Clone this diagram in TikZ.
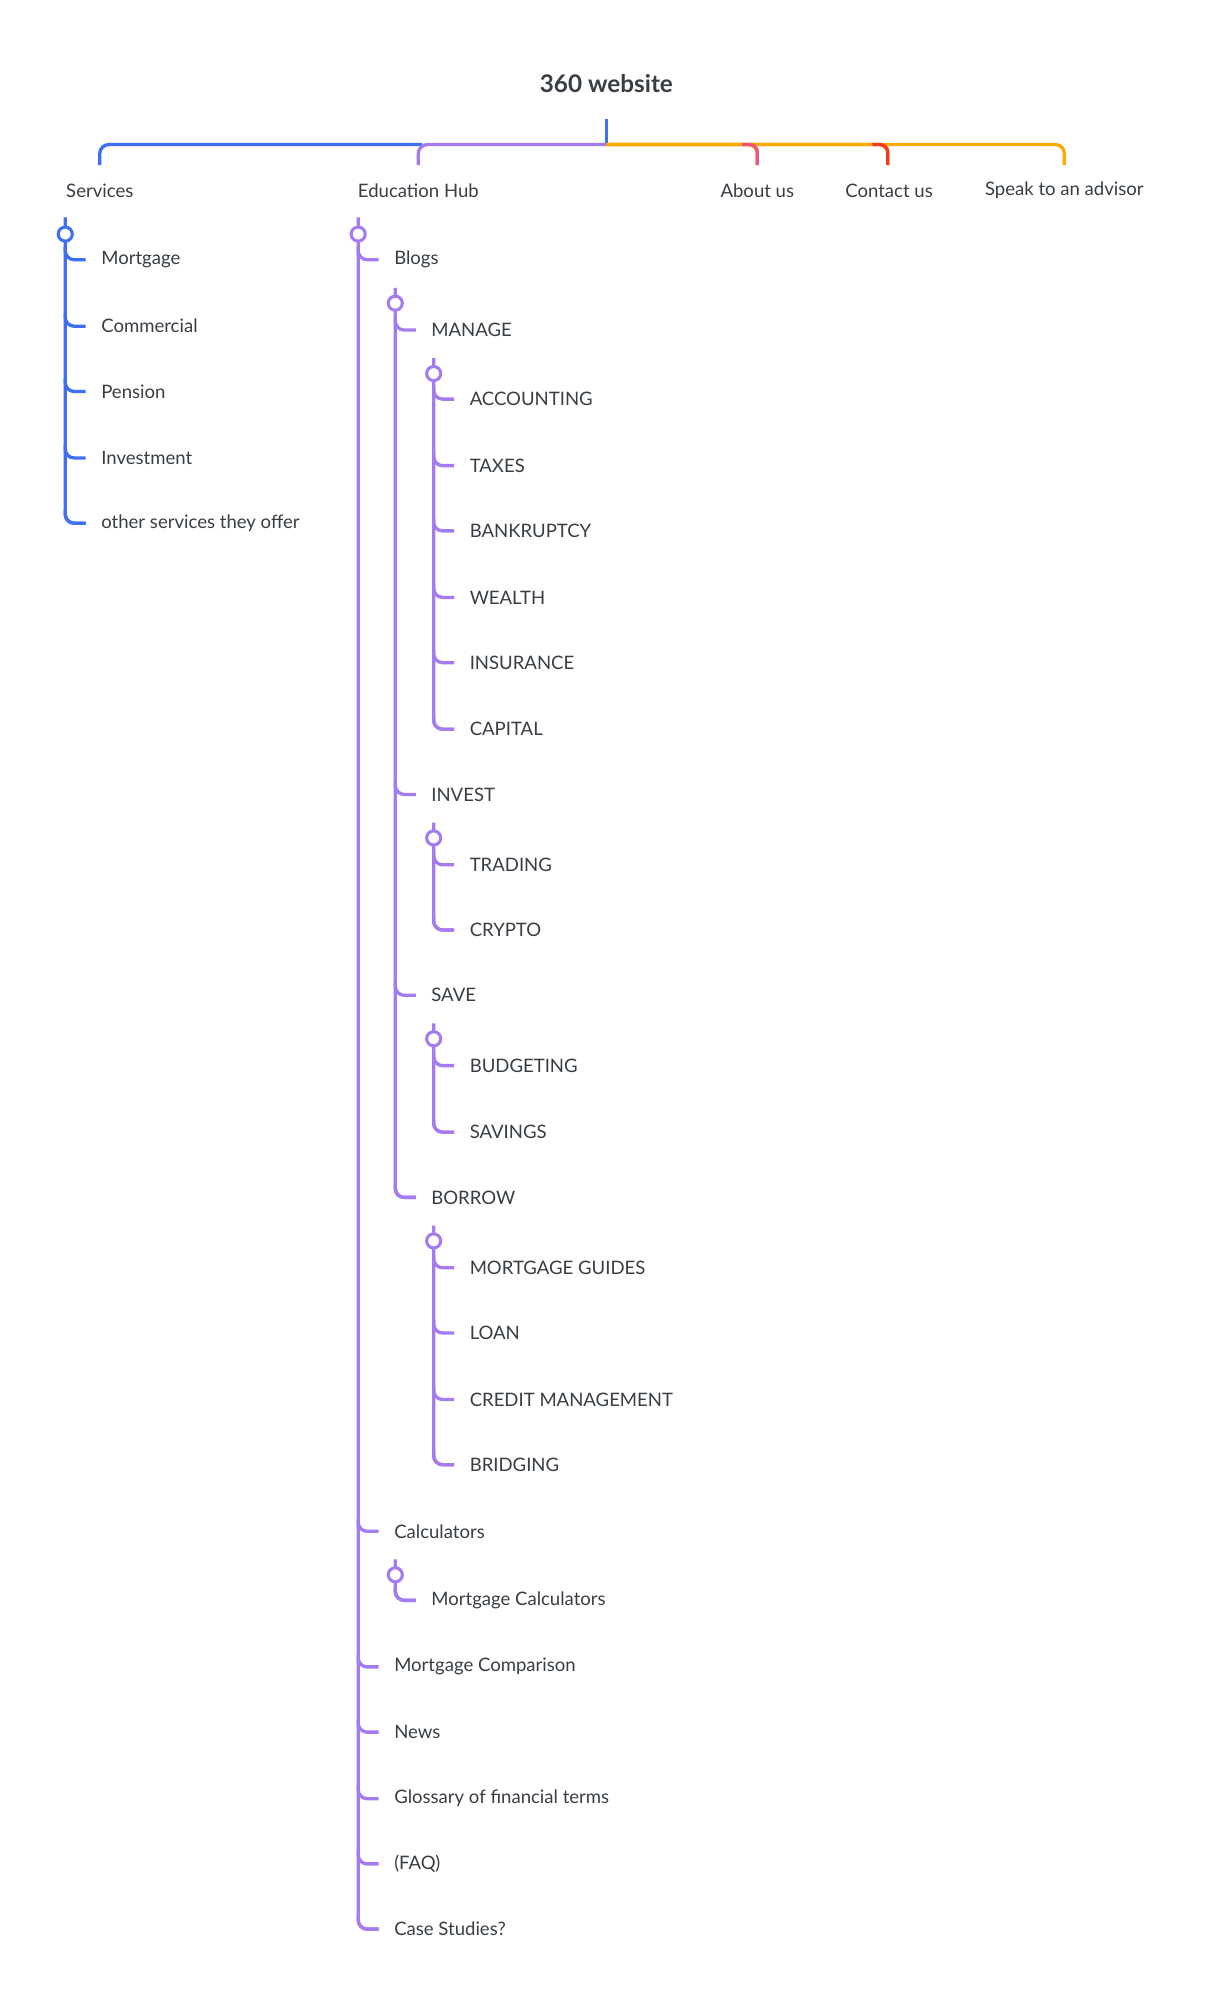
\documentclass[tikz,border=0pt]{standalone}
\usepackage{fontspec}
\setmainfont{Lato}
\definecolor{cb}{HTML}{3F6FF3}
\definecolor{cp}{HTML}{A57CF0}
\definecolor{co}{HTML}{FFAA00}
\definecolor{cpk}{HTML}{F0527A}
\definecolor{cr}{HTML}{F03C24}
\definecolor{tx}{HTML}{383E44}
\tikzset{lbl/.style={inner sep=0pt,anchor=west,text=tx,font=\fontsize{14.5}{16}\selectfont},
 top/.style={inner sep=0pt,anchor=center,text=tx,font=\fontsize{14.5}{16}\selectfont},
 ln/.style={line width=2.6pt,rounded corners=7pt},
 dot/.style={circle,draw,fill=white,line width=2.4pt,minimum size=11pt,inner sep=0pt}}
% \branch{x}{top}{circle y}{last y}{color}{y/label/name list}
\newcommand\mybranch[6]{%
 \draw[ln,#5] (#1,#2) |- (#1+16,#4);
 \foreach \yy/\tt/\nn in {#6}{%
   \draw[ln,#5] (#1,\yy-10) |- (#1+16,\yy);
   \node[lbl] (\nn) at (#1+28,\yy) {\tt};}
 \node[dot,draw=#5] at (#1,#3) {};}
\begin{document}
\begin{tikzpicture}[x=1pt,y=-1pt]
\useasboundingbox[fill=white] (0,0) rectangle (950,1572);
\node[inner sep=0pt,text=tx,font=\fontsize{19}{22}\selectfont\bfseries] (root) at (474,65) {360 website};
\draw[line width=2.6pt,cb] (474,93) -- (474,113);
\draw[ln,co] (474,113) -| (832,129);
\draw[ln,co] (474,113) -| (592,129);
\draw[ln,co] (474,113) -| (694,129);
\draw[line width=2.6pt,cpk,rounded corners=6pt] (580,113) -| (592,129);
\draw[line width=2.6pt,cr,rounded corners=6pt] (682,113) -| (694,129);
\draw[ln,cb] (330,113) -| (78,129);
\draw[ln,cp] (474,113) -| (327,129);
\node[top] (serv) at (78,149) {Services};
\node[top] (edu) at (327,149) {Education Hub};
\node[top] (about) at (592,149) {About us};
\node[top] (contact) at (695,149) {Contact us};
\node[top] (speak) at (832,149) {Speak to an advisor};
\mybranch{51}{170}{183}{409}{cb}{203/Mortgage/s1,255/Commercial/s2,306/Pension/s3,358/Investment/s4,409/other services they offer/s5}
\mybranch{280}{170}{183}{1508}{cp}{203/Blogs/e1,1197/Calculators/e2,1303/Mortgage Comparison/e3,1354/News/e4,1406/Glossary of financial terms/e5,1457/(FAQ)/e6,1508/Case Studies?/e7}
\mybranch{309}{225}{237}{936}{cp}{258/MANAGE/b1,621/INVEST/b2,778/SAVE/b3,936/BORROW/b4}
\mybranch{339}{280}{292}{570}{cp}{312/ACCOUNTING/m1,364/TAXES/m2,415/BANKRUPTCY/m3,467/WEALTH/m4,518/INSURANCE/m5,570/CAPITAL/m6}
\mybranch{339}{643}{655}{727}{cp}{676/TRADING/i1,727/CRYPTO/i2}
\mybranch{339}{800}{812}{885}{cp}{833/BUDGETING/v1,885/SAVINGS/v2}
\mybranch{339}{958}{970}{1145}{cp}{991/MORTGAGE GUIDES/w1,1042/LOAN/w2,1094/CREDIT MANAGEMENT/w3,1145/BRIDGING/w4}
\mybranch{309}{1219}{1231}{1251}{cp}{1251/Mortgage Calculators/c1}
\end{tikzpicture}
\end{document}
